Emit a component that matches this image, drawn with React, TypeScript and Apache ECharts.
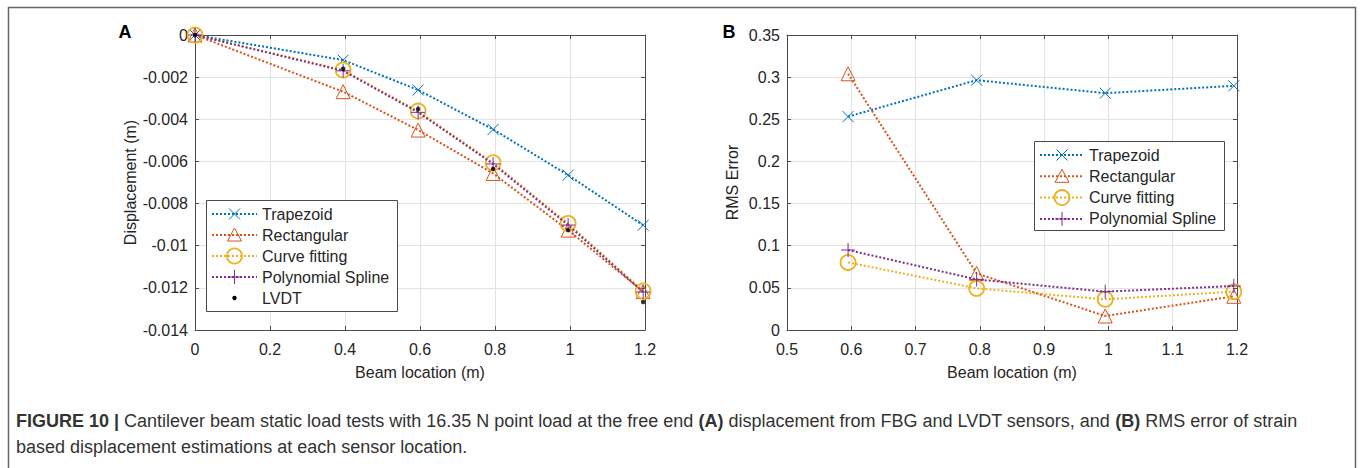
import React, { useEffect, useRef } from 'react';
import * as echarts from 'echarts';

// ---------- data ----------
const seriesNames = ['Trapezoid', 'Rectangular', 'Curve fitting', 'Polynomial Spline'];
const lvdtName = 'LVDT';

// Panel A: displacement (m) vs beam location (m)
const xA = [0, 0.395, 0.595, 0.795, 0.995, 1.195];
const trapA = [0, -0.00119, -0.00261, -0.00448, -0.00665, -0.00903];
const rectA = [0, -0.00269, -0.00451, -0.00657, -0.00926, -0.01218];
const curveA = [0, -0.00166, -0.00361, -0.00606, -0.00894, -0.01215];
const polyA = [0, -0.0017, -0.00367, -0.00612, -0.00902, -0.0122];
const lvdtA = [0, -0.0016, -0.00351, -0.00636, -0.00926, -0.01267];

// Panel B: RMS error vs beam location (m)
const xB = [0.595, 0.795, 0.995, 1.195];
const trapB = [0.2532, 0.2964, 0.281, 0.2897];
const rectB = [0.304, 0.0672, 0.0166, 0.04];
const curveB = [0.0802, 0.0494, 0.0364, 0.0455];
const polyB = [0.0949, 0.06, 0.0455, 0.0522];

const xAxisName = 'Beam location (m)';
const yAxisNameA = 'Displacement (m)';
const yAxisNameB = 'RMS Error';
const panelLabels = ['A', 'B'];
const captionLine1 =
  '{b|FIGURE 10 |} Cantilever beam static load tests with 16.35 N point load at the free end {b|(A)} displacement from FBG and LVDT sensors, and {b|(B)} RMS error of strain';
const captionLine2 = 'based displacement estimations at each sensor location.';

// ---------- styles ----------
const FONT = '"Liberation Sans", Arial, Helvetica, sans-serif';
const COLORS = ['#0072BD', '#D95319', '#EDB120', '#7E2F8E'];
const AXIS_COLOR = '#4a4a4a';
const GRID_COLOR = '#e3e3e3';
const TEXT_COLOR = '#262626';
const X_SYM = 'path://M0,0L10,10M10,0L0,10';
const PLUS_SYM = 'path://M5,0L5,10M0,5L10,5';
const SYMBOLS = [X_SYM, 'triangle', 'circle', PLUS_SYM];
const SYMBOL_SIZES = [11, 14, 15, 14];
const MARKER_KINDS = ['x', 'tri', 'circle', 'plus'];
const LINE_W = 2;

const fmt = (d: number) => (v: number) => {
  const r = parseFloat(v.toFixed(d));
  return r === 0 ? '0' : String(r);
};

function lineSeries(i: number, xs: number[], ys: number[], xi: number, yi: number) {
  return {
    type: 'line',
    name: seriesNames[i],
    xAxisIndex: xi,
    yAxisIndex: yi,
    data: xs.map((x, k) => [x, ys[k]]),
    symbol: SYMBOLS[i],
    symbolSize: SYMBOL_SIZES[i],
    showSymbol: true,
    lineStyle: { color: COLORS[i], width: LINE_W, type: 'dotted' },
    itemStyle: { color: 'transparent', borderColor: COLORS[i], borderWidth: i === 2 ? 1.8 : 1 },
    z: 3 + i,
  };
}

function axisPair(gridIndex: number, min: number, max: number, interval: number, dec: number, isX: boolean, name: string, nameGap: number) {
  const common = {
    gridIndex,
    type: 'value',
    min,
    max,
    interval,
    axisLine: { show: true, onZero: false, lineStyle: { color: AXIS_COLOR, width: 1 } },
    axisTick: { show: true, inside: true, length: 4, lineStyle: { color: AXIS_COLOR } },
  };
  return [
    {
      ...common,
      position: isX ? 'bottom' : 'left',
      name,
      nameLocation: 'middle',
      nameGap,
      nameTextStyle: { fontFamily: FONT, fontSize: 16, color: TEXT_COLOR },
      axisLabel: { fontFamily: FONT, fontSize: 16, color: TEXT_COLOR, margin: isX ? 11 : 7, formatter: fmt(dec) },
      splitLine: { show: true, lineStyle: { color: GRID_COLOR, width: 1 } },
    },
    {
      ...common,
      position: isX ? 'top' : 'right',
      axisLabel: { show: false },
      splitLine: { show: false },
    },
  ];
}

type Item = { kind: string; color: string; name: string; line: boolean };

function markerEls(kind: string, cx: number, cy: number, color: string): any[] {
  const st = { stroke: color, lineWidth: 1, fill: 'none' };
  switch (kind) {
    case 'x':
      return [
        { type: 'line', shape: { x1: cx - 5.5, y1: cy - 5.5, x2: cx + 5.5, y2: cy + 5.5 }, style: st, z: 20 },
        { type: 'line', shape: { x1: cx - 5.5, y1: cy + 5.5, x2: cx + 5.5, y2: cy - 5.5 }, style: st, z: 20 },
      ];
    case 'plus':
      return [
        { type: 'line', shape: { x1: cx, y1: cy - 7, x2: cx, y2: cy + 7 }, style: st, z: 20 },
        { type: 'line', shape: { x1: cx - 7, y1: cy, x2: cx + 7, y2: cy }, style: st, z: 20 },
      ];
    case 'tri':
      return [{ type: 'polygon', shape: { points: [[cx, cy - 7], [cx + 7, cy + 6], [cx - 7, cy + 6]] }, style: st, z: 20 }];
    case 'circle':
      return [{ type: 'circle', shape: { cx, cy, r: 7.5 }, style: { ...st, lineWidth: 1.8 }, z: 20 }];
    default:
      return [{ type: 'circle', shape: { cx, cy, r: 2.2 }, style: { fill: '#000', stroke: 'none' }, z: 20 }];
  }
}

function legendEls(box: { x: number; y: number; w: number; h: number }, y0: number, gap: number, lx1: number, lx2: number, tx: number, items: Item[]): any[] {
  const els: any[] = [
    {
      type: 'rect',
      shape: { x: box.x + 0.5, y: box.y + 0.5, width: box.w, height: box.h },
      style: { fill: '#fff', stroke: AXIS_COLOR, lineWidth: 1 },
      z: 15,
    },
  ];
  items.forEach((it, i) => {
    const cy = y0 + i * gap;
    if (it.line) {
      els.push({
        type: 'line',
        shape: { x1: lx1, y1: cy, x2: lx2, y2: cy },
        style: { stroke: it.color, lineWidth: LINE_W, lineDash: [LINE_W, LINE_W] },
        z: 18,
      });
    }
    els.push(...markerEls(it.kind, (lx1 + lx2) / 2, cy, it.color));
    els.push({
      type: 'text',
      x: tx,
      y: cy,
      style: { text: it.name, fontFamily: FONT, fontSize: 16, fill: TEXT_COLOR, verticalAlign: 'middle', textAlign: 'left' },
      z: 20,
    });
  });
  return els;
}

export default function App() {
  const ref = useRef<HTMLDivElement>(null);
  useEffect(() => {
    if (!ref.current) return;
    const chart = echarts.init(ref.current, null, { renderer: 'svg' });

    const itemsA: Item[] = seriesNames
      .map((n, i) => ({ kind: MARKER_KINDS[i], color: COLORS[i], name: n, line: true }))
      .concat([{ kind: 'dot', color: '#000', name: lvdtName, line: false }]);
    const itemsB: Item[] = seriesNames.map((n, i) => ({ kind: MARKER_KINDS[i], color: COLORS[i], name: n, line: true }));

    const [xA0, xA1] = axisPair(0, 0, 1.2, 0.2, 1, true, xAxisName, 34);
    const [yA0, yA1] = axisPair(0, -0.014, 0, 0.002, 3, false, yAxisNameA, 54);
    const [xB0, xB1] = axisPair(1, 0.5, 1.2, 0.1, 1, true, xAxisName, 34);
    const [yB0, yB1] = axisPair(1, 0, 0.35, 0.05, 2, false, yAxisNameB, 47);

    chart.setOption({
      animation: false,
      backgroundColor: '#fff',
      grid: [
        { left: 195, top: 35, width: 450, height: 295 },
        { left: 787, top: 35, width: 450, height: 295 },
      ],
      xAxis: [xA0, xA1, xB0, xB1],
      yAxis: [yA0, yA1, yB0, yB1],
      series: [
        lineSeries(0, xA, trapA, 0, 0),
        lineSeries(1, xA, rectA, 0, 0),
        lineSeries(2, xA, curveA, 0, 0),
        lineSeries(3, xA, polyA, 0, 0),
        {
          type: 'scatter',
          name: lvdtName,
          xAxisIndex: 0,
          yAxisIndex: 0,
          data: xA.map((x, k) => [x, lvdtA[k]]),
          symbol: 'circle',
          symbolSize: 4.5,
          itemStyle: { color: '#000' },
          z: 10,
        },
        lineSeries(0, xB, trapB, 2, 2),
        lineSeries(1, xB, rectB, 2, 2),
        lineSeries(2, xB, curveB, 2, 2),
        lineSeries(3, xB, polyB, 2, 2),
      ],
      graphic: [
        {
          type: 'rect',
          shape: { x: 8.5, y: 7.5, width: 1347, height: 520 },
          style: { fill: 'none', stroke: '#666', lineWidth: 1.5 },
          silent: true,
          z: 1,
        },
        {
          type: 'text',
          x: 125,
          y: 32,
          style: { text: panelLabels[0], fontFamily: FONT, fontSize: 18, fontWeight: 'bold', fill: '#000', textAlign: 'center', verticalAlign: 'middle' },
        },
        {
          type: 'text',
          x: 729,
          y: 32,
          style: { text: panelLabels[1], fontFamily: FONT, fontSize: 18, fontWeight: 'bold', fill: '#000', textAlign: 'center', verticalAlign: 'middle' },
        },
        ...legendEls({ x: 206, y: 200, w: 191, h: 111 }, 214, 21, 212, 257, 262, itemsA),
        ...legendEls({ x: 1034, y: 141, w: 190, h: 89 }, 155, 21.3, 1040, 1084, 1089, itemsB),
        {
          type: 'text',
          x: 16,
          y: 421,
          style: {
            text: captionLine1,
            fontFamily: FONT,
            fontSize: 18,
            fill: '#333',
            verticalAlign: 'middle',
            rich: { b: { fontFamily: FONT, fontSize: 18, fontWeight: 'bold', fill: '#333' } },
          },
        },
        {
          type: 'text',
          x: 16,
          y: 447,
          style: { text: captionLine2, fontFamily: FONT, fontSize: 18, fill: '#333', verticalAlign: 'middle' },
        },
      ],
    });
    return () => chart.dispose();
  }, []);
  return <div ref={ref} style={{ position: 'absolute', left: 0, top: 0, width: 1360, height: 468 }} />;
}
